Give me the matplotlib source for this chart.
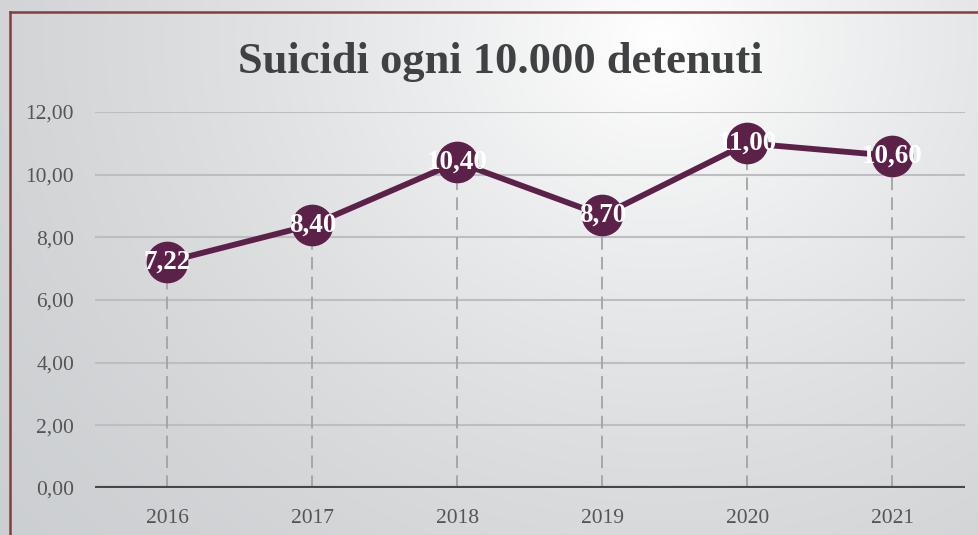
import numpy as np
import matplotlib.pyplot as plt

years = ['2016', '2017', '2018', '2019', '2020', '2021']
values = [7.22, 8.40, 10.40, 8.70, 11.00, 10.60]
labels = ['7,22', '8,40', '10,40', '8,70', '11,00', '10,60']
yticks = [0, 2, 4, 6, 8, 10, 12]

plt.rcParams['font.family'] = ['Liberation Serif', 'DejaVu Serif']

fig = plt.figure(figsize=(9.79, 5.35), dpi=100)

# radial gradient background
bg = fig.add_axes([0, 0, 1, 1])
gx, gy = np.meshgrid(np.linspace(0, 979, 400), np.linspace(0, 535, 220))
d = np.sqrt(((gx - 660) / 1.0) ** 2 + ((gy - 40) / 0.9) ** 2)
shade = np.clip(1 - d / 900, 0, 1)
c0 = np.array([0.80, 0.81, 0.82])
c1 = np.array([1.0, 1.0, 1.0])
img = c0 + (c1 - c0) * shade[..., None] ** 1.6
bg.imshow(img, extent=[0, 979, 535, 0], aspect='auto')
bg.set_xlim(0, 979)
bg.set_ylim(535, 0)
bg.axis('off')
# frame (top and left only)
bg.plot([10, 979], [12, 12], color='#8B3A3E', lw=1.8)
bg.plot([10, 10], [12, 535], color='#8B3A3E', lw=1.8)

ax = fig.add_axes([0.097, 0.0879, 0.8887, 0.7028])
ax.patch.set_alpha(0)
x = np.arange(len(years))

for v in yticks[1:]:
    ax.axhline(v, color='#BDBEC0', lw=1.5, zorder=1)
ax.axhline(0, color='#474747', lw=3, zorder=2)

for xi, v in zip(x, values):
    ax.plot([xi, xi], [0, v], color='#A3A3A3', lw=1.3, ls=(0, (7, 4)), zorder=1.5)

purple = '#5C2149'
ax.plot(x, values, color=purple, lw=4.2, marker='o', markersize=29,
        markerfacecolor=purple, markeredgecolor=purple, zorder=3)
for xi, v, lab in zip(x, values, labels):
    ax.text(xi, v, lab, ha='center', va='center', color='white',
            fontsize=19.5, fontweight='bold', zorder=4)

ax.set_xlim(-0.5, 5.5)
ax.set_ylim(0, 12)
ax.set_yticks(yticks)
ax.set_yticklabels(['%d,00' % t for t in yticks])
ax.set_xticks(x)
ax.set_xticklabels(years)
ax.tick_params(length=0, labelsize=15.5, colors='#555555')
ax.tick_params(axis='x', pad=15)
ax.tick_params(axis='y', pad=15)
for s in ax.spines.values():
    s.set_visible(False)

fig.text(0.511, 0.884, 'Suicidi ogni 10.000 detenuti', ha='center', va='center',
         fontsize=32, fontweight='bold', color='#404143')

fig.savefig('out.png', dpi=100)
